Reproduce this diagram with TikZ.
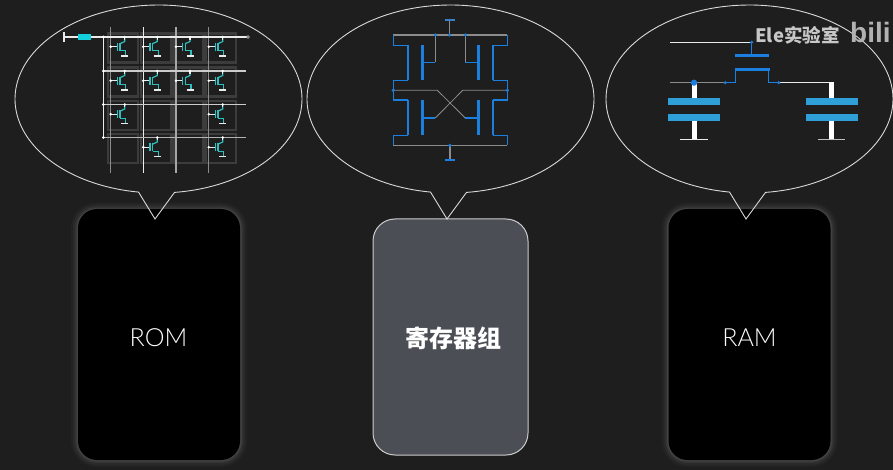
\documentclass[tikz,border=0pt]{standalone}
\usepackage{fontspec}
\setmainfont{Liberation Sans}
\newfontfamily\cjk{Noto Sans CJK SC}
\newfontfamily\thinfont{Lato Light}
\newfontfamily\heavyfont{Liberation Sans Bold}
\definecolor{bgdark}{HTML}{1E1E1E}
\definecolor{cellgray}{HTML}{3C3C3C}
\definecolor{fetcyan}{HTML}{2FBFBF}
\definecolor{resblue}{HTML}{12D0DC}
\definecolor{sramblue}{HTML}{1B7FE0}
\definecolor{platepale}{HTML}{2F9FD8}
\definecolor{regfill}{HTML}{4B4E55}

\begin{document}
\begin{tikzpicture}[x=1pt,y=-1pt]
      \tikzstyle{bubble}=[draw=white!85!black, line width=0.9pt, line join=miter]
      \tikzstyle{chip}=[rectangle, rounded corners=19pt, minimum width=162pt, minimum height=251pt, inner sep=0pt, fill=black]
      \tikzstyle{regs}=[rectangle, rounded corners=22pt, minimum width=155pt, minimum height=236pt, inner sep=0pt, fill=regfill, draw=white!80!black, line width=1pt]
      \tikzstyle{lbl}=[text=white, font=\thinfont\fontsize{25}{25}\selectfont, inner sep=0pt]
      \tikzstyle{cell}=[draw=cellgray, line width=2.3pt]
      \tikzstyle{wire}=[draw=white!92!black, line width=1.2pt]
      \tikzstyle{graywire}=[draw=white!55!black, line width=1.4pt]
      \tikzstyle{fetline}=[draw=fetcyan, line width=1.2pt]
      \tikzstyle{blueline}=[draw=sramblue, line width=1.5pt]
      \tikzstyle{bluebar}=[draw=sramblue, line width=2.6pt]
      \tikzstyle{plate}=[fill=platepale]
      \tikzstyle{dot}=[fill=sramblue]
      \tikzstyle{whitedot}=[fill=white]

      \fill[bgdark] (0,0) rectangle (893,470);
      \useasboundingbox (0,0) rectangle (893,470);
      \clip (0,0) rectangle (893,470);

      \foreach \cx in {159,749.5}
        \foreach \w/\o in {14/.025,10/.035,6/.05,3/.07}
          \draw[white, opacity=\o, line width=\w pt, rounded corners=19pt] (\cx-81,209.5) rectangle (\cx+81,460);

      \node[chip] (rom) at (159,334.5) {};
      \node[chip] (ram) at (749.5,334.5) {};
      \node[regs] (reg) at (450.5,337) {};

      \node[lbl] (romlbl) at (158.5,337.5) {ROM};
      \node[lbl] (ramlbl) at (749.5,337.5) {RAM};
      \node[lbl, font=\cjk\bfseries\fontsize{24}{24}\selectfont] (reglbl) at (453,338) {寄存器组};

      \foreach \cx in {158.5,450.5,749.5}
        \draw[bubble] plot[domain=98:443.6, samples=150] ({\cx+143.5*cos(\x)},{99+94*sin(\x)}) -- (\cx-3.5,219) -- cycle;

      \foreach \col in {110.7,143.3,176,208.7}
        \foreach \row in {37,71,104.5,137.5}
          \draw[cell] (\col-2.5,\row-3.5) rectangle (\col+27.5,\row+25.5);

      \draw[graywire] (110.7,27) -- (110.7,173);
      \draw[wire] (143.3,27) -- (143.3,173);
      \draw[wire, draw=white!65!black] (176,27) -- (176,173);
      \draw[graywire] (208.7,27) -- (208.7,173);

      \draw[wire] (64,32) -- (64,42);
      \draw[wire] (64,37) -- (246.5,37);
      \draw[wire] (103.3,37) -- (103.3,137.5);
      \draw[wire, draw=white!80!black] (103.3,71) -- (246,71);
      \draw[wire, draw=white!80!black] (103.3,104.5) -- (246,104.5);
      \draw[wire, draw=white!70!black] (103.3,137.5) -- (246,137.5);
      \draw[draw=white!70!black, line width=0.7pt] (248,37) circle (1.4);
      \fill[resblue] (78,34) rectangle (91,40);
      \foreach \row in {37,71,104.5,137.5}
        \fill[white] (103.3,\row) circle (1.5);

      \foreach \col/\row in {110.7/37,143.3/37,176/37,208.7/37,
                             110.7/71,143.3/71,176/71,208.7/71,
                             110.7/104.5,208.7/104.5,
                             143.3/137.5,208.7/137.5}{
        \begin{scope}[shift={(\col,\row)}]
          \draw[wire, line width=1.1pt] (0,9.7) -- (6,9.7);
          \fill[whitedot] (0,9.7) circle (1.4);
          \draw[fetline, line width=1.5pt] (6.6,5.7) -- (6.6,14);
          \draw[fetline, line width=1.5pt] (9.3,5.7) -- (9.3,14);
          \draw[fetline] (9.3,6.7) -- (14,4.5) -- (14,0);
          \draw[fetline] (9.3,13.7) -- (15,13.7) -- (15,19);
          \draw[wire, line width=1.1pt] (14,3) -- (14,0);
          \fill[whitedot] (14,0) circle (1.4);
          \draw[wire, line width=1.3pt] (10.5,19) -- (17.5,19);
        \end{scope}
      }

      \draw[graywire, line width=1.1pt] (449.3,20) -- (449.3,35);
      \draw[blueline, draw=sramblue!70!gray] (444.7,20) -- (454.7,20);
      \draw[graywire] (393.3,35) -- (507.3,35);
      \draw[graywire] (393.3,145.5) -- (507.3,145.5);
      \draw[graywire, line width=1.1pt] (450,145.5) -- (450,160);
      \draw[bluebar, line width=1.6pt] (445,160) -- (455,160);

      \draw[graywire, line width=1.1pt] (435.3,35) -- (435.3,62.5);
      \draw[graywire, line width=1.1pt] (465.3,35) -- (465.3,62.5);
      \draw[blueline] (435.3,62.5) -- (422.3,62.5);
      \draw[blueline] (465.3,62.5) -- (478.3,62.5);
      \draw[blueline] (435.3,118) -- (422.3,118);
      \draw[blueline] (465.3,118) -- (478.3,118);
      \draw[graywire, line width=0.8pt] (435.3,118) -- (462.7,90.3) -- (507.3,90.3);
      \draw[graywire, line width=0.8pt] (465.3,118) -- (437.3,90.3) -- (393.3,90.3);

      \foreach \sx/\ix/\gx in {393.3/408/422.3,507.3/493/478.3}{
        \draw[blueline] (\sx,35) -- (\sx,45.3) -- (\ix,45.3);
        \draw[blueline] (\ix,80.3) -- (\sx,80.3) -- (\sx,100) -- (\ix,100);
        \draw[blueline] (\ix,135.5) -- (\sx,135.5) -- (\sx,145.5);
        \draw[bluebar] (\ix,45.3) -- (\ix,80.3);
        \draw[bluebar] (\ix,100) -- (\ix,135.5);
        \draw[bluebar] (\gx,45.3) -- (\gx,80.3);
        \draw[bluebar] (\gx,100) -- (\gx,135.5);
      }
      \foreach \dx/\dy in {435.3/35,449.3/35,465.3/35,393.3/90.3,507.3/90.3,450/145.5}
        \fill[dot] (\dx,\dy) circle (1.8);

      \draw[wire, line width=1pt] (670,42.3) -- (751.7,42.3);
      \draw[blueline] (751.7,42.3) -- (751.7,55.7);
      \draw[bluebar] (735,55.7) -- (769,55.7);
      \draw[blueline] (725.3,82.7) -- (735.5,82.7) -- (735.5,69.7);
      \draw[blueline] (778.7,82.7) -- (768.5,82.7) -- (768.5,69.7);
      \draw[bluebar] (734.5,69.7) -- (769.5,69.7);
      \draw[graywire, line width=1.2pt] (670,82.7) -- (725.3,82.7);
      \draw[wire] (778.7,82.7) -- (834,82.7);
      \fill[white] (691.5,82.7) rectangle (696.5,98);
      \fill[white] (691.5,121.3) rectangle (696.5,139.5);
      \fill[white] (829,82.2) rectangle (834.3,98);
      \fill[white] (829,121.3) rectangle (834.3,139.5);
      \draw[wire] (680,139.7) -- (707.5,139.7);
      \draw[graywire, line width=1.2pt, draw=white!75!black] (818,139.7) -- (845,139.7);
      \fill[plate] (667.7,98) rectangle (720,105);
      \fill[plate] (667.7,114) rectangle (720,121.3);
      \fill[plate] (805.7,98) rectangle (858,105);
      \fill[plate] (805.7,114) rectangle (858,121.3);
      \fill[dot] (694,82.7) circle (3.1);
      \fill[dot] (725.3,82.7) circle (1.7);
      \fill[dot] (778.7,82.7) circle (1.7);
      \fill[dot] (751.7,42.3) circle (1.7);

      \node[text=white!78!black, anchor=west, inner sep=0pt, font=\cjk\bfseries\fontsize{18.5}{18.5}\selectfont] (ele) at (755,35) {Ele实验室};
      \node[text=white!70!black, anchor=west, inner sep=0pt, font=\heavyfont\fontsize{28}{28}\selectfont] (bili) at (850,32) {bili};
    \end{tikzpicture}
\end{document}
